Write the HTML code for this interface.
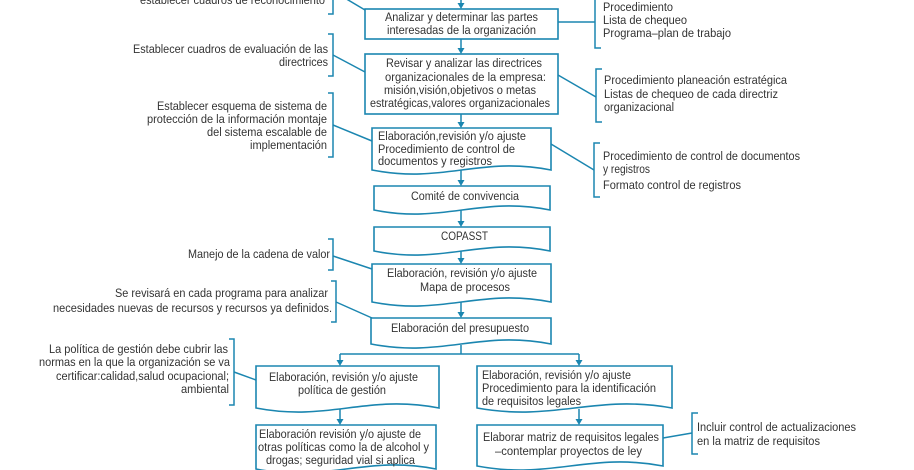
<!DOCTYPE html>
<html><head><meta charset="utf-8"><style>
html,body{margin:0;padding:0;background:#fff;}
svg{display:block;}
text{font-family:"Liberation Sans",sans-serif;font-size:12.4px;fill:#333;}
.b{fill:#fff;stroke:#1b86b0;stroke-width:1.6;}
.l{fill:none;stroke:#1b86b0;stroke-width:1.5;}
.a{fill:#1b86b0;}
</style></head><body>
<svg width="914" height="470" viewBox="0 0 914 470" xmlns="http://www.w3.org/2000/svg">
<!-- main boxes -->
<rect class="b" x="365" y="9" width="193" height="30"/>
<rect class="b" x="365" y="54" width="193" height="60"/>
<path class="b" d="M372,128 H551 V170 C479,156 444,184 372,170 Z"/>
<path class="b" d="M374,186 H550 V210 C480,196 444,224 374,210 Z"/>
<path class="b" d="M374,227 H550 V251 C480,237 444,265 374,251 Z"/>
<path class="b" d="M372,264 H551 V302 C479,288 444,316 372,302 Z"/>
<path class="b" d="M371,318 H551 V344 C479,330 443,358 371,344 Z"/>
<path class="b" d="M256,366 H439 V408 C366,394 329,422 256,408 Z"/>
<path class="b" d="M256,425 H436 V469 C364,455 328,483 256,469 Z"/>
<path class="b" d="M477,366 H672 V408 C594,394 555,422 477,408 Z"/>
<path class="b" d="M477,425 H663 V466 C589,452 551,480 477,466 Z"/>

<!-- arrows main flow -->
<path class="l" d="M461,0 V4 M461,39 V49 M461,114 V123 M461,170 V181 M461,210 V222 M461,251 V259 M461,302 V313 M461,345 V354 M340,354 H579 M340,354 V361 M579,354 V361 M340,409 V420 M579,409 V420"/>
<polygon class="a" points="457.5,3 464.5,3 461,9"/>
<polygon class="a" points="457.5,48 464.5,48 461,54"/>
<polygon class="a" points="457.5,122 464.5,122 461,128"/>
<polygon class="a" points="457.5,180 464.5,180 461,186"/>
<polygon class="a" points="457.5,221 464.5,221 461,227"/>
<polygon class="a" points="457.5,258 464.5,258 461,264"/>
<polygon class="a" points="457.5,312 464.5,312 461,318"/>
<polygon class="a" points="336.5,360 343.5,360 340,366"/>
<polygon class="a" points="575.5,360 582.5,360 579,366"/>
<polygon class="a" points="336.5,419 343.5,419 340,425"/>
<polygon class="a" points="575.5,419 582.5,419 579,425"/>

<!-- brackets left -->
<path class="l" d="M328,-5 H333 V14 H328"/>
<path class="l" d="M328,34 H333 V76 H328"/>
<path class="l" d="M328,93 H333 V157 H328"/>
<path class="l" d="M328,239 H333 V270 H328"/>
<path class="l" d="M331,281 H336 V322 H331"/>
<path class="l" d="M229,339 H234 V405 H229"/>
<!-- brackets right -->
<path class="l" d="M601,-5 H595 V48 H601"/>
<path class="l" d="M602,69 H596 V122 H602"/>
<path class="l" d="M600,143 H594 V197 H600"/>
<path class="l" d="M698,413 H692 V454 H698"/>

<!-- connector lines -->
<path class="l" d="M333,-9 L365,10 M333,55 L365,72 M333,125 L372,141 M558,22 H595 M558,75 L596,97 M551,144 L594,170 M333,256 L372,269 M336,302 L372,318 M234,372 L256,380 M663,438 L692,433"/>

<!-- left annotation texts -->
<text x="140" y="4" textLength="185" lengthAdjust="spacingAndGlyphs">establecer cuadros de reconocimiento</text>
<text x="133" y="53" textLength="195" lengthAdjust="spacingAndGlyphs">Establecer cuadros de evaluación de las</text>
<text x="279" y="66" textLength="49" lengthAdjust="spacingAndGlyphs">directrices</text>
<text x="157" y="110" textLength="170" lengthAdjust="spacingAndGlyphs">Establecer esquema de sistema de</text>
<text x="147" y="123" textLength="180" lengthAdjust="spacingAndGlyphs">protección de la información montaje</text>
<text x="207" y="136" textLength="120" lengthAdjust="spacingAndGlyphs">del sistema escalable de</text>
<text x="250" y="149" textLength="77" lengthAdjust="spacingAndGlyphs">implementación</text>
<text x="188" y="258" textLength="142" lengthAdjust="spacingAndGlyphs">Manejo de la cadena de valor</text>
<text x="115" y="297" textLength="213" lengthAdjust="spacingAndGlyphs">Se revisará en cada programa para analizar</text>
<text x="53" y="312" textLength="279" lengthAdjust="spacingAndGlyphs">necesidades nuevas de recursos y recursos ya definidos.</text>
<text x="49" y="353" textLength="179" lengthAdjust="spacingAndGlyphs">La política de gestión debe cubrir las</text>
<text x="39" y="366" textLength="191" lengthAdjust="spacingAndGlyphs">normas en la que la organización se va</text>
<text x="56" y="380" textLength="173" lengthAdjust="spacingAndGlyphs">certificar:calidad,salud ocupacional;</text>
<text x="181" y="393" textLength="48" lengthAdjust="spacingAndGlyphs">ambiental</text>

<!-- right annotation texts -->
<text x="603" y="11" textLength="70" lengthAdjust="spacingAndGlyphs">Procedimiento</text>
<text x="603" y="24" textLength="84" lengthAdjust="spacingAndGlyphs">Lista de chequeo</text>
<text x="603" y="37" textLength="128" lengthAdjust="spacingAndGlyphs">Programa–plan de trabajo</text>
<text x="604" y="84" textLength="183" lengthAdjust="spacingAndGlyphs">Procedimiento planeación estratégica</text>
<text x="604" y="98" textLength="174" lengthAdjust="spacingAndGlyphs">Listas de chequeo de cada directriz</text>
<text x="604" y="111" textLength="70" lengthAdjust="spacingAndGlyphs">organizacional</text>
<text x="603" y="160" textLength="197" lengthAdjust="spacingAndGlyphs">Procedimiento de control de documentos</text>
<text x="603" y="173" textLength="47" lengthAdjust="spacingAndGlyphs">y registros</text>
<text x="603" y="189" textLength="138" lengthAdjust="spacingAndGlyphs">Formato control de registros</text>
<text x="697" y="431" textLength="159" lengthAdjust="spacingAndGlyphs">Incluir control de actualizaciones</text>
<text x="697" y="445" textLength="123" lengthAdjust="spacingAndGlyphs">en la matriz de requisitos</text>

<!-- box texts -->
<text x="385" y="21" textLength="153" lengthAdjust="spacingAndGlyphs">Analizar y determinar las partes</text>
<text x="387" y="34" textLength="149" lengthAdjust="spacingAndGlyphs">interesadas de la organización</text>
<text x="386" y="67" textLength="156" lengthAdjust="spacingAndGlyphs">Revisar y analizar las directrices</text>
<text x="385" y="81" textLength="161" lengthAdjust="spacingAndGlyphs">organizacionales de la empresa:</text>
<text x="384" y="94" textLength="152" lengthAdjust="spacingAndGlyphs">misión,visión,objetivos o metas</text>
<text x="370" y="107" textLength="180" lengthAdjust="spacingAndGlyphs">estratégicas,valores organizacionales</text>
<text x="378" y="140" textLength="148" lengthAdjust="spacingAndGlyphs">Elaboración,revisión y/o ajuste</text>
<text x="378" y="153" textLength="137" lengthAdjust="spacingAndGlyphs">Procedimiento de control de</text>
<text x="378" y="165" textLength="114" lengthAdjust="spacingAndGlyphs">documentos y registros</text>
<text x="411" y="200" textLength="108" lengthAdjust="spacingAndGlyphs">Comité de convivencia</text>
<text x="441" y="240" textLength="47" lengthAdjust="spacingAndGlyphs">COPASST</text>
<text x="387" y="277" textLength="150" lengthAdjust="spacingAndGlyphs">Elaboración, revisión y/o ajuste</text>
<text x="420" y="291" textLength="90" lengthAdjust="spacingAndGlyphs">Mapa de procesos</text>
<text x="391" y="332" textLength="138" lengthAdjust="spacingAndGlyphs">Elaboración del presupuesto</text>
<text x="269" y="381" textLength="149" lengthAdjust="spacingAndGlyphs">Elaboración, revisión y/o ajuste</text>
<text x="298" y="394" textLength="88" lengthAdjust="spacingAndGlyphs">política de gestión</text>
<text x="259" y="438" textLength="162" lengthAdjust="spacingAndGlyphs">Elaboración revisión y/o ajuste de</text>
<text x="258" y="451" textLength="171" lengthAdjust="spacingAndGlyphs">otras políticas como la de alcohol y</text>
<text x="266" y="464" textLength="149" lengthAdjust="spacingAndGlyphs">drogas; seguridad vial si aplica</text>
<text x="482" y="379" textLength="149" lengthAdjust="spacingAndGlyphs">Elaboración, revisión y/o ajuste</text>
<text x="482" y="392" textLength="174" lengthAdjust="spacingAndGlyphs">Procedimiento para la identificación</text>
<text x="482" y="405" textLength="99" lengthAdjust="spacingAndGlyphs">de requisitos legales</text>
<text x="483" y="441" textLength="176" lengthAdjust="spacingAndGlyphs">Elaborar matriz de requisitos legales</text>
<text x="495" y="455" textLength="147" lengthAdjust="spacingAndGlyphs">–contemplar proyectos de ley</text>
</svg>
</body></html>
